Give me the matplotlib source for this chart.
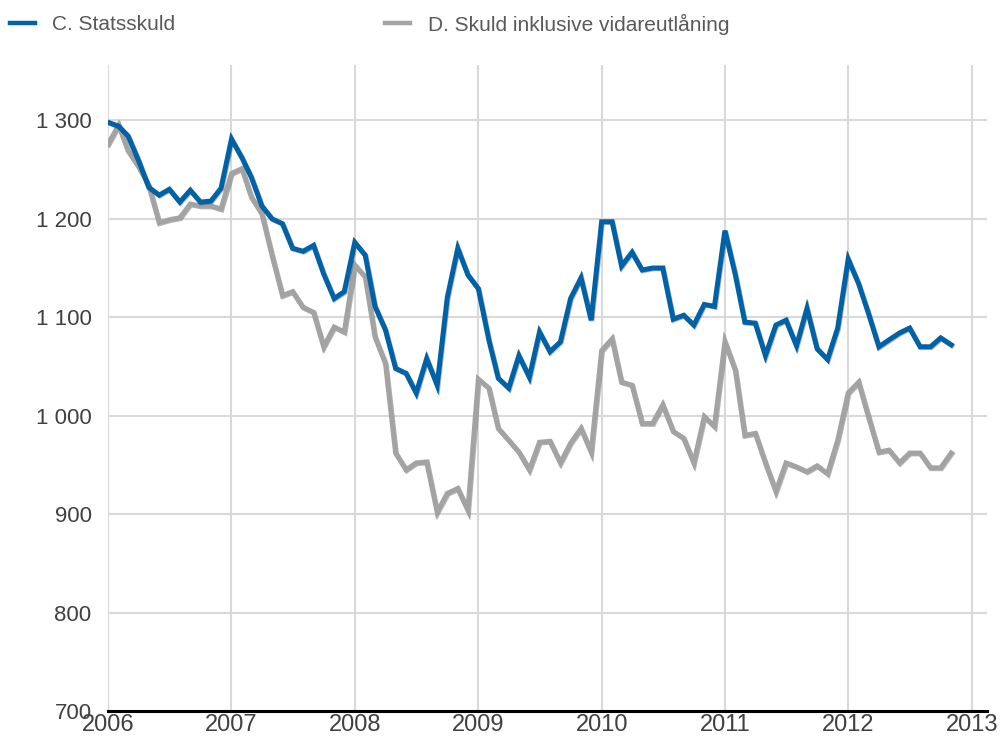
import matplotlib
matplotlib.use('Agg')
import matplotlib.pyplot as plt
import matplotlib.dates as mdates
import matplotlib.patheffects as pe
from matplotlib.lines import Line2D
import pandas as pd

plt.rcParams['font.family'] = ['Liberation Sans', 'DejaVu Sans']

# Monthly data, Jan 2006 - Nov 2012 (mdkr)
months = pd.date_range('2006-01-01', periods=83, freq='MS')

statsskuld = [
    1298, 1294, 1284, 1259, 1232, 1224, 1230, 1217, 1229, 1217, 1218, 1231,
    1281, 1262, 1242, 1213, 1200, 1195, 1170, 1167, 1173, 1144, 1119, 1126,
    1176, 1163, 1111, 1087, 1048, 1043, 1023, 1058, 1031, 1120, 1170, 1143,
    1129, 1077, 1038, 1028, 1061, 1039, 1085, 1065, 1075, 1119, 1140, 1097,
    1197, 1197, 1152, 1166, 1148, 1150, 1150, 1098, 1102, 1092, 1113, 1111,
    1188, 1143, 1095, 1094, 1061, 1092, 1097, 1071, 1109, 1068, 1057, 1089,
    1159, 1134, 1104, 1070, 1077, 1084, 1089, 1070, 1070, 1079, 1072,
]

skuld_vidare = [
    1276, 1295, 1269, 1253, 1234, 1196, 1199, 1201, 1215, 1213, 1213, 1210,
    1246, 1251, 1222, 1205, 1163, 1122, 1126, 1110, 1105, 1070, 1090, 1085,
    1153, 1141, 1080, 1053, 962, 945, 952, 953, 902, 921, 926, 904,
    1037, 1028, 987, 975, 963, 945, 973, 974, 952, 972, 987, 963,
    1066, 1078, 1034, 1031, 992, 992, 1011, 984, 977, 952, 999, 989,
    1075, 1046, 980, 982, 952, 923, 952, 948, 943, 949, 941, 975,
    1023, 1034, 999, 963, 965, 952, 962, 962, 947, 947, 962,
]

series_names = ['C. Statsskuld', 'D. Skuld inklusive vidareutlåning']
series_colors = ['#0062A6', '#A3A3A3']

y_ticks = [700, 800, 900, 1000, 1100, 1200, 1300]
y_labels = ['700', '800', '900', '1 000', '1 100', '1 200', '1 300']
year_ticks = pd.date_range('2006-01-01', '2013-01-01', freq='YS')

fig = plt.figure(figsize=(10.02, 7.38), dpi=100)
ax = fig.add_axes([0.108, 0.0366, 0.877, 0.875])

shadow = [pe.SimpleLineShadow(offset=(0.6, -0.6), shadow_color='#333333', alpha=0.35),
          pe.Normal()]
for vals, col in zip([skuld_vidare, statsskuld], series_colors[::-1]):
    ax.plot(months, vals, color=col, lw=3.6, solid_joinstyle='miter',
            path_effects=shadow, zorder=3)

ax.set_ylim(700, 1356)
ax.set_xlim(pd.Timestamp('2006-01-01'), pd.Timestamp('2013-02-15'))

ax.set_yticks(y_ticks)
ax.set_yticklabels(y_labels)
ax.set_xticks(year_ticks)
ax.xaxis.set_major_formatter(mdates.DateFormatter('%Y'))

ax.grid(True, color='#D9D9D9', lw=1.5, zorder=0)
ax.set_axisbelow(True)
for s in ['top', 'right', 'left']:
    ax.spines[s].set_visible(False)
ax.spines['bottom'].set_color('black')
ax.spines['bottom'].set_linewidth(2.2)
ax.spines['bottom'].set_zorder(4)

ax.tick_params(axis='y', length=0, pad=12, labelsize=16, labelcolor='#404040')
ax.tick_params(axis='x', length=0, pad=2, labelsize=17, labelcolor='#404040')

# Legend at top
W, H = 1002, 738
leg_pos = [(10, 35, 52), (385, 410, 428)]
for (x0, x1, xt), name, col in zip(leg_pos, series_names, series_colors):
    fig.add_artist(Line2D([x0 / W, x1 / W], [1 - 23 / H, 1 - 23 / H],
                          color=col, lw=3.2, transform=fig.transFigure))
    fig.text(xt / W, 1 - 24 / H, name, fontsize=15, color='#595959',
             ha='left', va='center')

fig.savefig('out.png', dpi=100)
